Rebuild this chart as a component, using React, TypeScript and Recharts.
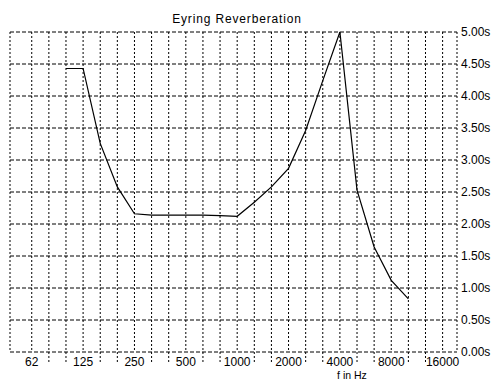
import React from 'react'
import {
  LineChart,
  Line,
  XAxis,
  YAxis,
  CartesianGrid,
} from 'recharts'

// third-octave band centres shown on the x axis (one grid line each)
const thirdOctaveBands = [
  63, 80, 100, 125, 160, 200, 250, 315, 400, 500, 630, 800, 1000,
  1250, 1600, 2000, 2500, 3150, 4000, 5000, 6300, 8000, 10000, 12500, 16000,
]
// octave labels as printed under the axis
const octaveBands = [63, 125, 250, 500, 1000, 2000, 4000, 8000, 16000]
const octaveLabels = ['62', '125', '250', '500', '1000', '2000', '4000', '8000', '16000']

// measured bands and their Eyring reverberation time (s)
const measuredBands = [
  100, 125, 160, 200, 250, 315, 400, 500, 630, 800, 1000,
  1250, 1600, 2000, 2500, 3150, 4000, 5000, 6300, 8000, 10000,
]
const reverbTime = [
  4.43, 4.43, 3.26, 2.58, 2.16, 2.14, 2.14, 2.14, 2.14, 2.13, 2.12,
  2.34, 2.58, 2.87, 3.46, 4.24, 5.0, 2.53, 1.64, 1.12, 0.83,
]
const yTicks = [0, 0.5, 1, 1.5, 2, 2.5, 3, 3.5, 4, 4.5, 5]

const bandPos = (f: number) => thirdOctaveBands.indexOf(f)
const data = measuredBands.map((f, k) => ({ pos: bandPos(f), t: reverbTime[k] }))
const xTicks = thirdOctaveBands.map((_, i) => i)

const FONT = 'Arial, "Liberation Sans", sans-serif'

function BandTick(props: any) {
  const { x, y, payload } = props
  const f = thirdOctaveBands[payload.value]
  const li = octaveBands.indexOf(f)
  if (li >= 0) {
    return (
      <text x={x} y={y} dy={14} textAnchor="middle" fontSize={12} fontFamily={FONT} fill="#000">
        {octaveLabels[li]}
      </text>
    )
  }
  return <line x1={x} x2={x} y1={y} y2={y + 10} stroke="#000" strokeDasharray="2 2" />
}

export default function App() {
  return (
    <div style={{ position: 'absolute', left: 0, top: 0, width: 493, height: 381, overflow: 'hidden', background: '#fff' }}>
      <div
        style={{
          position: 'absolute', left: 137, top: 13, width: 200, textAlign: 'center',
          fontFamily: FONT, fontSize: 12, lineHeight: '12px', letterSpacing: 0.85, color: '#000',
        }}
      >
        Eyring Reverberation
      </div>
      <LineChart width={493} height={381} data={data} margin={{ top: 32, right: 0, left: 10, bottom: 0 }}>
        <CartesianGrid horizontal vertical={false} stroke="#000" strokeDasharray="4 2" />
        <CartesianGrid horizontal={false} vertical stroke="#000" strokeDasharray="2 2" />
        <XAxis
          dataKey="pos"
          type="number"
          domain={[-1.27, 24.84]}
          ticks={xTicks}
          interval={0}
          allowDataOverflow
          axisLine={false}
          tickLine={false}
          tickSize={0}
          tickMargin={0}
          height={29}
          tick={<BandTick />}
        />
        <YAxis
          orientation="right"
          domain={[0, 5]}
          ticks={yTicks}
          interval={0}
          width={36}
          axisLine={false}
          tickLine={false}
          tickSize={0}
          tickMargin={4}
          tick={{ fontSize: 12, fontFamily: FONT, fill: '#000' }}
          tickFormatter={(v: number) => `${v.toFixed(2)}s`}
        />
        <Line
          type="linear"
          dataKey="t"
          stroke="#000"
          strokeWidth={1.2}
          dot={false}
          isAnimationActive={false}
        />
      </LineChart>
      <div
        style={{
          position: 'absolute', left: 302, top: 369.5, width: 100, textAlign: 'center',
          fontFamily: FONT, fontSize: 10.5, lineHeight: '10.5px', color: '#000',
        }}
      >
        f in Hz
      </div>
    </div>
  )
}
